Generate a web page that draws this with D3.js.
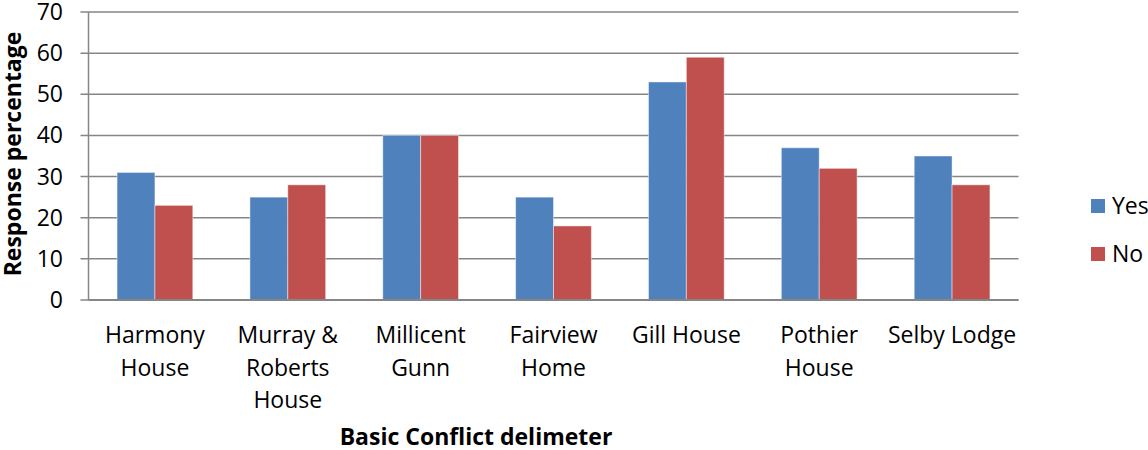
<!DOCTYPE html>
<html>
<head>
<meta charset="utf-8">
<script src="https://cdn.jsdelivr.net/npm/d3@7"></script>
<style>
  html, body { margin: 0; padding: 0; background: #fff; }
  svg { display: block; font-family: "Open Sans", sans-serif; }
</style>
</head>
<body>
<svg id="chart" width="1148" height="450"></svg>
<script>
// Residences surveyed, with label line breaks
const categories = ["Harmony House", "Murray & Roberts House", "Millicent Gunn", "Fairview Home", "Gill House", "Pothier House", "Selby Lodge"];
const categoryLines = [["Harmony", "House"], ["Murray &", "Roberts", "House"], ["Millicent", "Gunn"], ["Fairview", "Home"], ["Gill House"], ["Pothier", "House"], ["Selby Lodge"]];
const seriesNames = ["Yes", "No"];
const yesValues = [31, 25, 40, 25, 53, 37, 35];
const noValues = [23, 28, 40, 18, 59, 32, 28];
const yTicks = [0, 10, 20, 30, 40, 50, 60, 70];
const colors = ["#4F81BD", "#C0504D"];

const svg = d3.select("#chart");
const plot = { left: 88.5, right: 1018.5, top: 12, bottom: 300 };
const fontSize = 23;

const x0 = d3.scaleBand().domain(categories).range([plot.left, plot.right])
  .paddingInner(0.43).paddingOuter(0.215);
const x1 = d3.scaleBand().domain(seriesNames).range([0, x0.bandwidth()]);
const y = d3.scaleLinear().domain([0, 70]).range([plot.bottom, plot.top]);

const gridColor = "#868686";

// Gridlines with outward tick marks
svg.append("g").selectAll("line").data(yTicks).join("line")
  .attr("x1", plot.left - 8).attr("x2", plot.right)
  .attr("y1", d => y(d)).attr("y2", d => y(d))
  .attr("stroke", gridColor).attr("stroke-width", 1.5);

// Value axis line
svg.append("line")
  .attr("x1", plot.left).attr("x2", plot.left)
  .attr("y1", plot.top).attr("y2", plot.bottom)
  .attr("stroke", gridColor).attr("stroke-width", 1.5);

// Tick labels on the value axis
svg.append("g").selectAll("text").data(yTicks).join("text")
  .attr("x", 63).attr("y", d => y(d))
  .attr("text-anchor", "end").attr("dy", "0.35em")
  .attr("font-size", fontSize).attr("fill", "#000")
  .text(d => d);

// Bars
const rows = categories.map((c, i) => ({ cat: c, vals: [yesValues[i], noValues[i]] }));
const groups = svg.append("g").selectAll("g").data(rows).join("g")
  .attr("transform", d => `translate(${x0(d.cat)},0)`);
groups.selectAll("rect").data(d => d.vals.map((v, j) => ({ key: seriesNames[j], v, j })))
  .join("rect")
  .attr("x", d => x1(d.key))
  .attr("width", x1.bandwidth())
  .attr("y", d => y(d.v))
  .attr("height", d => y(0) - y(d.v))
  .attr("fill", d => colors[d.j])
  .attr("stroke", "rgba(255,255,255,0.45)").attr("stroke-width", 1);

// Category axis line
svg.append("line")
  .attr("x1", plot.left).attr("x2", plot.right)
  .attr("y1", plot.bottom).attr("y2", plot.bottom)
  .attr("stroke", gridColor).attr("stroke-width", 2);

// Category labels
const catLabels = svg.append("g").selectAll("g").data(categories).join("g")
  .attr("transform", d => `translate(${x0(d) + x0.bandwidth() / 2},0)`);
catLabels.each(function (d, i) {
  d3.select(this).selectAll("text").data(categoryLines[i]).join("text")
    .attr("x", 0).attr("y", (l, k) => 343 + k * 32.5)
    .attr("text-anchor", "middle").attr("font-size", fontSize).attr("fill", "#000")
    .text(l => l);
});

// Axis titles
svg.append("text").attr("x", 476).attr("y", 445).attr("text-anchor", "middle")
  .attr("font-size", fontSize).attr("font-weight", "bold").text("Basic Conflict delimeter");

svg.append("text").attr("transform", "translate(20.5,154) rotate(-90)")
  .attr("text-anchor", "middle")
  .attr("font-size", fontSize).attr("font-weight", "bold").text("Response percentage");

// Legend
const legend = svg.append("g").selectAll("g").data(seriesNames).join("g")
  .attr("transform", (d, i) => `translate(1091,${199 + i * 48})`);
legend.append("rect").attr("width", 14).attr("height", 14)
  .attr("fill", (d, i) => colors[i]);
legend.append("text").attr("x", 21).attr("y", 15)
  .attr("font-size", fontSize).attr("fill", "#000")
  .text(d => d);
</script>
</body>
</html>
